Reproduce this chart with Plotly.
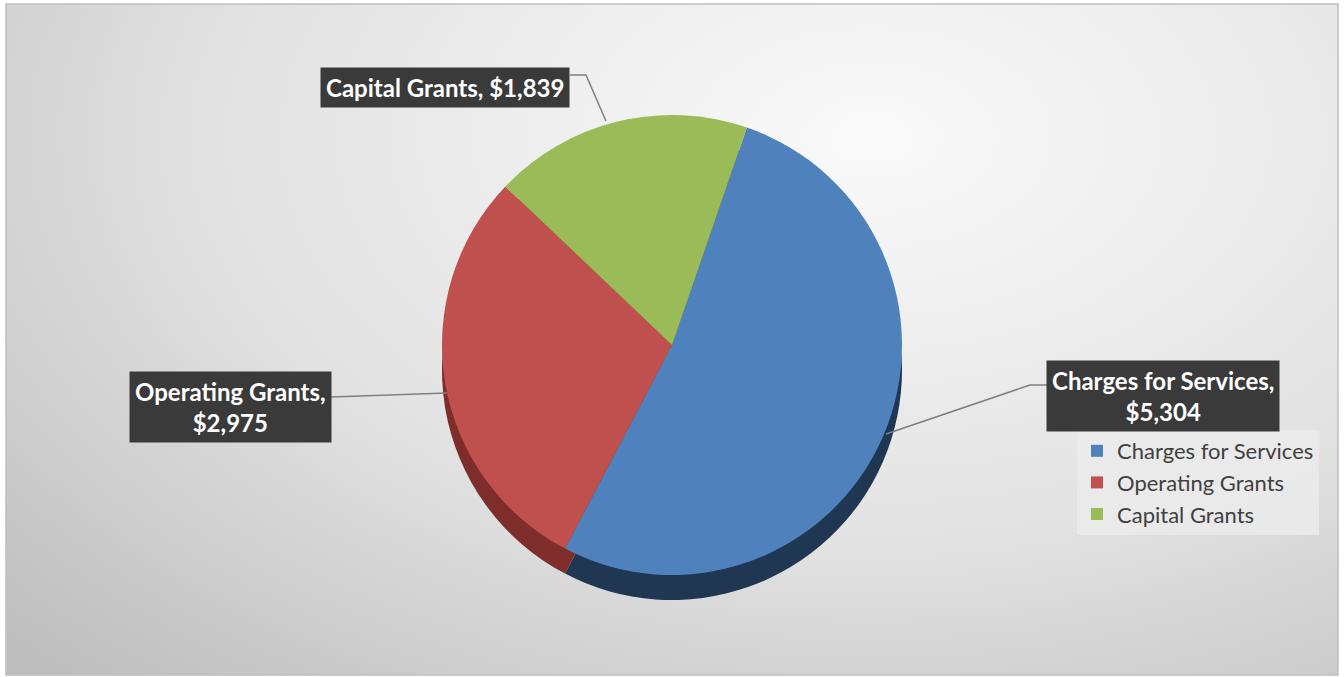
import plotly.graph_objects as go

# ---- data ----
categories = ["Charges for Services", "Operating Grants", "Capital Grants"]
values = [5304, 2975, 1839]
label_breaks = [True, True, False]   # label text wraps after the comma
colors = ["#4F81BD", "#C0504D", "#9BBB59"]
side_colors = ["#203754", "#7E2D2B", "#5F7631"]

W, H = 1344, 677
def px(x):
    return x / W
def py(y):
    return 1 - y / H

fig = go.Figure()

# background radial gradient panel
fig.add_trace(go.Scatter(
    x=[-0.25, 1.55, 1.55, -0.25, -0.25], y=[-0.3, -0.3, 1.9, 1.9, -0.3],
    mode="none", fill="toself",
    fillgradient=dict(type="radial", colorscale=[[0, "#fafafa"], [0.55, "#e2e2e2"], [1, "#bdbdbd"]]),
    hoverinfo="skip", showlegend=False,
))

# pie depth (side)
fig.add_trace(go.Pie(
    labels=categories, values=values, sort=False, direction="clockwise", rotation=19,
    marker=dict(colors=side_colors, line=dict(width=0)),
    textinfo="none", hoverinfo="skip", showlegend=False,
    domain=dict(x=[px(442), px(902)], y=[py(600), py(140)]),
))

# pie top
fig.add_trace(go.Pie(
    labels=categories, values=values, sort=False, direction="clockwise", rotation=19,
    marker=dict(colors=colors, line=dict(width=0)),
    textinfo="none", showlegend=True,
    domain=dict(x=[px(442), px(902)], y=[py(575), py(115)]),
))

# data labels
label_pos = [(1163, 396), (230, 407), (445, 88)]
for cat, val, brk, (lx, ly) in zip(categories, values, label_breaks, label_pos):
    txt = f"{cat},{'<br>' if brk else ' '}${val:,}"
    fig.add_annotation(
        x=px(lx), y=py(ly), xref="paper", yref="paper", text=txt, showarrow=False,
        xanchor="center", yanchor="middle",
        font=dict(family="Lato", size=24, color="white", weight="bold"),
        bgcolor="#3a3a3a", borderpad=5, align="center",
    )

def path(points):
    return "M " + " L ".join(f"{px(x)},{py(y)}" for x, y in points)

leaders = [
    [(1047, 385), (1030, 385), (886, 434)],
    [(331, 397), (447, 393)],
    [(570, 75), (586, 75), (606, 121)],
]
for pts in leaders:
    fig.add_shape(type="path", path=path(pts), xref="paper", yref="paper",
                  line=dict(color="#7f7f7f", width=1.5))

# border
fig.add_shape(type="rect", xref="paper", yref="paper", x0=px(6), x1=px(1338), y0=py(675), y1=py(4),
              line=dict(color="#bfbfbf", width=1.5), layer="above")

fig.update_layout(
    width=W, height=H, margin=dict(l=0, r=0, t=0, b=0),
    paper_bgcolor="white",
    xaxis=dict(domain=[px(6), px(1338)], range=[0, 1], visible=False, fixedrange=True),
    yaxis=dict(domain=[py(675), py(4)], range=[0, 1], visible=False, fixedrange=True),
    legend=dict(x=px(1077), y=py(430), xanchor="left", yanchor="top",
                bgcolor="rgba(235,235,235,0.85)", font=dict(family="Lato", size=22, color="#404040"),
                itemclick=False, itemdoubleclick=False, borderwidth=0),
    showlegend=True,
)

fig.write_html("out.html")
